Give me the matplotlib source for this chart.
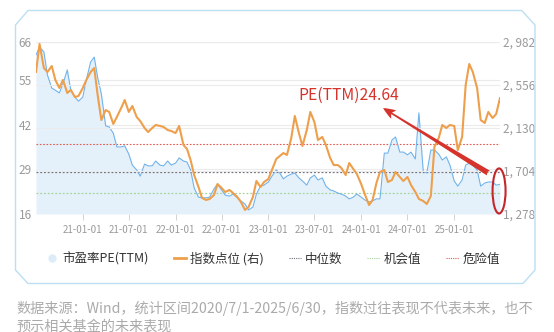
import matplotlib
matplotlib.use("Agg")
import matplotlib.pyplot as plt
import matplotlib.dates as mdates
from matplotlib.patches import Polygon, Ellipse
from matplotlib.lines import Line2D
from matplotlib.ticker import FuncFormatter
import pandas as pd
import numpy as np

plt.rcParams['font.family'] = ['Noto Sans CJK SC', 'DejaVu Sans']

# ---------------- data ----------------
dates = list(pd.date_range('2020-07-01', '2025-06-15', freq='SMS')) + [pd.Timestamp('2025-06-30')]

pe_ttm = [
    62.2, 64.5, 63.1, 56.4, 52.6, 52.0, 51.2, 53.8, 57.9, 52.0,
    50.0, 48.8, 50.0, 55.0, 60.2, 61.6, 55.5, 50.9, 41.6, 41.3,
    39.5, 35.5, 35.5, 35.8, 33.4, 30.2, 28.8, 27.0, 30.5, 30.0,
    30.0, 31.4, 30.2, 30.0, 31.4, 30.2, 30.8, 32.3, 31.4, 31.1,
    28.8, 23.6, 20.9, 20.7, 20.7, 20.9, 23.3, 24.7, 23.0, 21.5,
    21.2, 21.8, 20.7, 19.8, 18.9, 17.2, 18.0, 21.8, 24.1, 24.4,
    25.3, 27.0, 28.8, 27.9, 26.2, 27.0, 27.6, 27.9, 26.5, 25.6,
    24.4, 26.5, 27.3, 25.9, 26.5, 24.1, 23.0, 22.7, 22.1, 21.8,
    21.2, 20.4, 20.9, 21.8, 20.9, 20.1, 19.5, 19.8, 20.4, 20.4,
    33.7, 33.7, 37.5, 38.4, 34.0, 34.0, 33.2, 34.0, 32.0, 45.4,
    28.5, 27.9, 34.6, 34.6, 33.4, 31.7, 32.6, 30.2, 25.6, 24.1,
    25.9, 30.2, 30.8, 30.2, 28.8, 24.1, 25.0, 25.3, 25.3, 24.4,
    24.64,
]

index_level = [
    2685, 2962, 2724, 2685, 2744, 2606, 2526, 2606, 2477, 2507,
    2437, 2447, 2526, 2606, 2685, 2724, 2447, 2209, 2308, 2289,
    2170, 2239, 2328, 2407, 2289, 2348, 2239, 2199, 2130, 2090,
    2130, 2160, 2150, 2140, 2110, 2100, 2080, 2150, 1962, 1922,
    1813, 1664, 1546, 1437, 1417, 1427, 1466, 1575, 1536, 1496,
    1516, 1486, 1446, 1397, 1318, 1347, 1446, 1605, 1546, 1595,
    1625, 1714, 1823, 1853, 1882, 1863, 2031, 2249, 2080, 1952,
    2110, 2289, 2189, 2011, 2041, 1962, 1833, 1763, 1763, 1734,
    1664, 1783, 1724, 1674, 1575, 1476, 1367, 1417, 1585, 1694,
    1714, 1595, 1615, 1694, 1645, 1605, 1645, 1565, 1496, 1427,
    1407, 1377, 1456, 1942, 2031, 2160, 2130, 2160, 2150, 1912,
    2041, 2556, 2764, 2685, 2526, 2209, 2180, 2289, 2229, 2269,
    2427,
]

median_pe = 28.3
chance_pe = 22.2
danger_pe = 36.3
latest_pe = 24.64

left_ticks = [16, 29, 42, 55, 66]
right_ticks = [1278, 1704, 2130, 2556, 2982]
x_ticks = ['2021-01-01', '2021-07-01', '2022-01-01', '2022-07-01', '2023-01-01',
           '2023-07-01', '2024-01-01', '2024-07-01', '2025-01-01']

legend_labels = ['市盈率PE(TTM)', '指数点位 (右)', '中位数', '机会值', '危险值']
footer_lines = ['数据来源：Wind，统计区间2020/7/1-2025/6/30，指数过往表现不代表未来，也不',
                '预示相关基金的未来表现']

# ---------------- colors ----------------
c_blue = '#72b3ea'
c_fill = '#e4f1fb'
c_orange = '#ee9f4c'
c_red = '#d5332c'
c_gray_dot = '#6e6e7a'
c_green_dot = '#a6d39a'
c_red_dot = '#e05a50'
c_tick = '#9a9a9a'
c_grid = '#ebebeb'
c_frame = '#bcdff2'

W, H = 554, 332
fig = plt.figure(figsize=(W / 100, H / 100), dpi=100)
fig.patch.set_facecolor('white')

# decorative frame with chamfered corners
def fp(x, y):
    return (x / W, 1 - y / H)
frame_pts = [fp(15.5, 25), fp(28, 10.5), fp(521.7, 10.5), fp(535, 25),
             fp(535, 270), fp(523, 283.5), fp(28, 283.5), fp(15.5, 270)]
fig.patches.append(Polygon(frame_pts, closed=True, fill=False, edgecolor=c_frame,
                           linewidth=1.0, transform=fig.transFigure, zorder=0))

ax = fig.add_axes([36 / W, 1 - 214 / H, (500 - 36) / W, (214 - 42) / H])
ax2 = ax.twinx()

x = mdates.date2num(dates)

ax.set_ylim(16, 66)
ax2.set_ylim(1278, 2982)
ax.set_xlim(mdates.date2num(pd.Timestamp('2020-07-01')), mdates.date2num(pd.Timestamp('2025-06-30')))

# gridlines (both axes)
for t in left_ticks:
    ax.axhline(t, color=c_grid, lw=0.8, zorder=0.5)
for t in right_ticks:
    ax2.axhline(t, color=c_grid, lw=0.8, zorder=0.5)

ax.fill_between(x, pe_ttm, 16, color=c_fill, lw=0, zorder=1)
ax.plot(x, pe_ttm, color=c_blue, lw=0.8, zorder=3)

ax.axhline(danger_pe, color=c_red_dot, lw=0.8, ls=(0, (1.5, 1.5)), zorder=2)
ax.axhline(median_pe, color=c_gray_dot, lw=0.9, ls=(0, (1.5, 1.5)), zorder=2)
ax.axhline(chance_pe, color=c_green_dot, lw=0.9, ls=(0, (1.5, 1.5)), zorder=2)

ax2.plot(x, index_level, color=c_orange, lw=1.5, zorder=4)

# axes styling
for a in (ax, ax2):
    for s in a.spines.values():
        s.set_visible(False)
ax.set_yticks(left_ticks)
ax.set_yticklabels([str(t) for t in left_ticks])
ax2.set_yticks(right_ticks)
ax2.yaxis.set_major_formatter(FuncFormatter(lambda v, p: f"{int(round(v)):,}".replace(",", ", ")))
ax.tick_params(axis='y', length=0, pad=3, labelsize=8.5, labelcolor=c_tick)
ax2.tick_params(axis='y', length=0, pad=2, labelsize=8.5, labelcolor=c_tick)

ax.set_xticks(mdates.date2num(pd.to_datetime(x_ticks)))
ax.xaxis.set_major_formatter(mdates.DateFormatter('%y-%m-%d'))
ax.tick_params(axis='x', length=4, width=0.6, color='#cccccc', pad=4, labelsize=7, labelcolor=c_tick)

# annotation
ax2.annotate('', xy=(0.748, 0.616), xycoords='axes fraction',
             xytext=(0.975, 0.238), textcoords='axes fraction',
             arrowprops=dict(arrowstyle='fancy,head_length=0.9,head_width=0.7,tail_width=0.4',
                             color=c_red, lw=0, shrinkA=0, shrinkB=0), zorder=6)
ax2.text(0.675, 0.688, f'PE(TTM){latest_pe:.2f}', transform=ax2.transAxes,
         ha='center', va='center', fontsize=11.3, color=c_red, fontweight='medium', zorder=6)
ax2.add_patch(Ellipse((0.998, 0.134), 0.028, 0.262, transform=ax2.transAxes,
                      fill=False, edgecolor='#c4262a', lw=1.5, clip_on=False, zorder=7))

# legend
handles = [
    Line2D([], [], ls='none', marker='o', markersize=6, markerfacecolor='#dcecf9', markeredgecolor='none'),
    Line2D([], [], color=c_orange, lw=2),
    Line2D([], [], color=c_gray_dot, lw=0.8, ls=(0, (1, 1))),
    Line2D([], [], color=c_green_dot, lw=0.8, ls=(0, (1, 1))),
    Line2D([], [], color=c_red_dot, lw=0.8, ls=(0, (1, 1))),
]
leg = fig.legend(handles, legend_labels, loc='center', bbox_to_anchor=(273 / W, 1 - 259 / H),
                 ncol=5, frameon=False, fontsize=9, handlelength=1.0, handletextpad=0.3,
                 columnspacing=2.0)
for t in leg.get_texts():
    t.set_color('#333333')

# footer
fig.text(16 / W, 1 - 308 / H, footer_lines[0], fontsize=10.2, color='#aaaaaa', ha='left', va='center')
fig.text(16 / W, 1 - 326 / H, footer_lines[1], fontsize=10.2, color='#aaaaaa', ha='left', va='center')

fig.savefig('out.png', dpi=100)
